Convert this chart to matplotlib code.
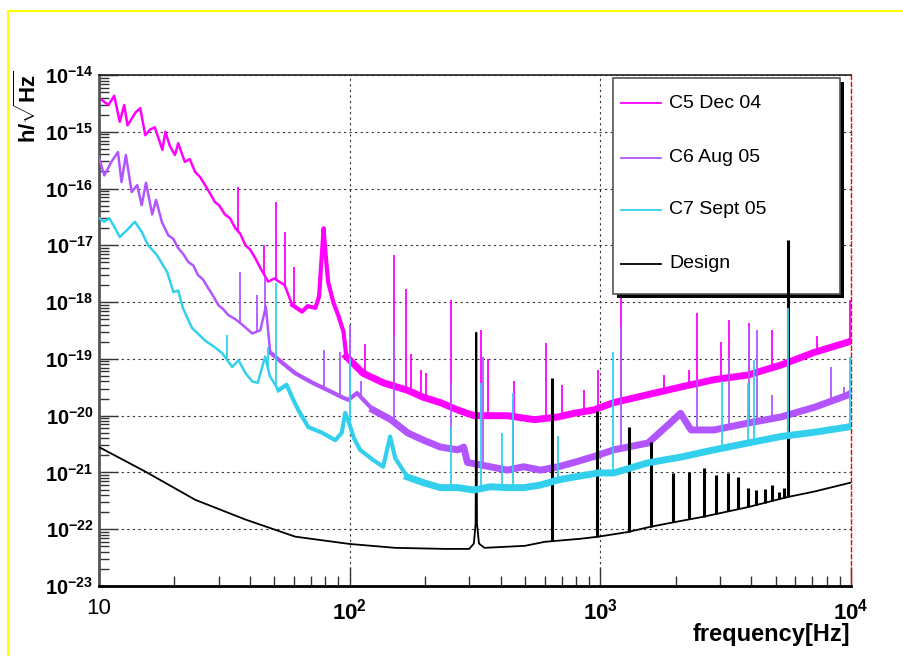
import numpy as np
import matplotlib
matplotlib.use("Agg")
import matplotlib.pyplot as plt
from matplotlib.lines import Line2D
from matplotlib.patches import Rectangle
from matplotlib.ticker import FixedLocator, FixedFormatter, LogLocator, NullFormatter

plt.rcParams['font.family'] = ['Liberation Sans', 'DejaVu Sans']
plt.rcParams['mathtext.fontset'] = 'custom'
plt.rcParams['mathtext.rm'] = 'Liberation Sans:bold'
plt.rcParams['mathtext.it'] = 'Liberation Sans:bold'
plt.rcParams['mathtext.bf'] = 'Liberation Sans:bold'
plt.rcParams['mathtext.default'] = 'rm'

# ---- data (frequency in Hz, strain in 1/sqrt(Hz)) ----
c5_freq = [10.0, 10.9, 11.5, 12.1, 12.6, 13.0, 14.0, 14.6, 15.3, 16.0, 16.7, 17.9, 18.4, 19.2,
           20.1, 20.7, 22.0, 23.0, 24.2, 25.3, 26.5, 27.6, 29.0, 30.2, 31.8, 33.3, 35.0, 36.6,
           38.4, 40.0, 42.0, 44.0, 47.3, 50.0, 55.0, 59.0, 64.6, 68.0, 73.0, 75.5, 78.7,
           80.0, 82.0, 86.0, 90.0, 94.5, 97.0, 113, 136, 170, 197, 230, 270, 313, 426, 545, 680,
           785, 940, 1132, 2094, 2840, 3880, 5260, 7130, 9820, 10000]
c5_h = [4.0e-15, 2.95e-15, 4.3e-15, 1.5e-15, 2.95e-15, 1.3e-15, 2.2e-15, 2.6e-15, 8.7e-16,
        1.1e-15, 1.2e-15, 4.8e-16, 1.0e-15, 5.5e-16, 3.9e-16, 6.3e-16, 2.95e-16, 3.3e-16,
        1.95e-16, 1.6e-16, 1.15e-16, 8.5e-17, 5.8e-17, 5.0e-17, 3.5e-17, 3.0e-17, 2.0e-17,
        1.6e-17, 1.0e-17, 8.5e-18, 6.0e-18, 4.0e-18, 2.3e-18, 2.6e-18, 2.0e-18, 8.9e-19,
        6.8e-19, 8.5e-19, 7.9e-19, 1.26e-18, 2.0e-17, 7.9e-18, 2.3e-18, 1.0e-18, 5.9e-19,
        3.0e-19, 1.1e-19, 5.6e-20, 3.8e-20, 2.8e-20, 2.1e-20, 1.7e-20, 1.26e-20, 1.0e-20,
        1.0e-20, 8.5e-21, 9.5e-21, 1.1e-20, 1.26e-20, 1.7e-20, 3.2e-20, 4.3e-20, 5.2e-20,
        7.8e-20, 1.3e-19, 2.0e-19, 2.1e-19]
c5_spike_f = [36.0, 45.6, 50.6, 55.4, 60.0, 115, 150, 168, 176, 193, 202, 253, 335, 355, 451,
              605, 700, 860, 980, 1208, 1800, 2250, 2426, 3030, 3260, 3930, 4840, 7300, 9950]
c5_spike_h = [1.07e-16, 1.0e-17, 5.8e-17, 1.7e-17, 4.2e-18, 1.8e-19, 6.8e-18, 1.7e-18, 1.2e-19,
              6.5e-20, 5.6e-20, 1.1e-18, 3.2e-19, 1.0e-19, 4.0e-20, 1.9e-19, 3.5e-20, 2.8e-20,
              6.5e-20, 1.2e-18, 5.2e-20, 6.5e-20, 6.5e-19, 2.0e-19, 4.9e-19, 4.3e-19, 3.2e-19,
              2.5e-19, 1.1e-18]

c6_freq = [10.0, 10.5, 11.2, 11.9, 12.3, 12.8, 13.5, 14.2, 14.8, 15.4, 16.3, 16.9, 17.8, 18.9,
           19.8, 20.7, 21.7, 22.7, 23.8, 24.8, 26.0, 27.2, 28.5, 29.9, 31.3, 32.8, 35.0, 37.3,
           40.9, 44.0, 46.3, 48.2, 53.9, 60.6, 71.0,
           82.0, 93.5, 98.8, 107, 124, 146, 170, 197, 230, 270, 285, 295, 363, 426, 494, 577,
           680, 785, 940, 1132, 1550, 1900, 2090, 2300, 2840, 3880, 5260, 7130, 9700, 10000]
c6_h = [3.5e-16, 1.7e-16, 2.95e-16, 4.4e-16, 1.3e-16, 3.9e-16, 8.7e-17, 1.15e-16, 5.1e-17,
        1.26e-16, 3.5e-17, 6.3e-17, 2.6e-17, 1.5e-17, 1.3e-17, 8.9e-18, 7.0e-18, 5.1e-18,
        4.4e-18, 3.0e-18, 2.5e-18, 1.8e-18, 1.3e-18, 8.9e-19, 7.5e-19, 5.9e-19, 5.0e-19,
        4.0e-19, 2.8e-19, 3.2e-19, 8.3e-19, 1.3e-19, 8.5e-20, 5.6e-20,
        3.8e-20, 2.8e-20, 2.1e-20, 1.9e-20, 2.5e-20, 1.26e-20, 8.5e-21, 5.0e-21, 3.7e-21,
        2.8e-21, 2.5e-21, 2.8e-21, 1.5e-21, 1.26e-21, 1.1e-21, 1.26e-21, 1.1e-21, 1.26e-21,
        1.5e-21, 1.9e-21, 2.5e-21, 3.3e-21, 7.4e-21, 1.1e-20, 5.6e-21, 5.6e-21, 7.4e-21,
        9.5e-21, 1.4e-20, 2.3e-20, 2.5e-20]
c6_spike_f = [36.6, 42.8, 45.9, 79, 91.5, 100, 111, 150, 253, 341, 450, 1208, 2426, 3260,
              3930, 4200, 4840, 8300, 9400]
c6_spike_h = [3.4e-18, 1.35e-18, 2.75e-18, 1.45e-19, 1.3e-19, 4.0e-19, 4.0e-20, 2.5e-19,
              3.8e-20, 1.1e-19, 1.9e-20, 3.6e-19, 4.3e-20, 1.1e-19, 3.6e-19, 3.2e-19, 2.3e-20,
              7.2e-20, 3.2e-20]

c7_freq = [10.0, 10.5, 11.0, 11.6, 12.1, 13.0, 13.9, 14.8, 15.7, 17.0, 18.7, 19.8, 20.7, 21.6,
           23.5, 24.8, 26.5, 29.0, 31.0, 34.0, 36.0, 38.4, 40.9, 43.0, 46.0, 48.0, 52.0, 56.0,
           59.6, 62.4, 68.4, 77.6, 87.6, 93.0, 96.0, 99.0, 104, 110, 124, 136, 145, 152, 170,
           197, 230, 270, 313, 363, 426, 494, 577, 680, 785, 980, 1132, 1550, 2090, 2840, 3880,
           5260, 7130, 9700, 10000]
c7_h = [3.0e-17, 2.6e-17, 3.0e-17, 2.0e-17, 1.4e-17, 1.9e-17, 2.6e-17, 1.74e-17, 1.0e-17,
        6.8e-18, 3.4e-18, 1.5e-18, 1.6e-18, 7.9e-19, 3.5e-19, 2.8e-19, 2.1e-19, 1.6e-19,
        1.26e-19, 7.2e-20, 9.5e-20, 5.6e-20, 4.0e-20, 3.8e-20, 1.1e-19, 5.0e-20, 2.8e-20,
        3.5e-20, 1.9e-20, 1.26e-20, 6.3e-21, 5.0e-21, 3.7e-21, 5.0e-21, 1.12e-20, 7.9e-21,
        4.0e-21, 2.5e-21, 1.66e-21, 1.26e-21, 4.3e-21, 1.78e-21, 8.3e-22, 6.6e-22, 5.4e-22,
        5.4e-22, 4.9e-22, 5.6e-22, 5.4e-22, 5.4e-22, 6.0e-22, 7.4e-22, 8.3e-22, 9.8e-22,
        9.8e-22, 1.48e-21, 1.86e-21, 2.5e-21, 3.3e-21, 4.3e-21, 5.1e-21, 6.3e-21, 6.5e-21]
c7_spike_f = [32.5, 47.3, 50.6, 100, 253, 333, 405, 450, 680, 1120, 3070, 3880, 4100, 5620, 9950]
c7_spike_h = [2.6e-19, 1.6e-19, 2.2e-18, 1.0e-19, 6.3e-21, 3.8e-20, 5.0e-21, 2.5e-20, 4.3e-21,
              1.3e-19, 4.0e-20, 3.8e-20, 9.5e-20, 7.9e-19, 1.1e-19]

design_freq = [10, 15.4, 24.2, 38.4, 60.6, 100, 152, 241, 300, 313, 318, 320, 322, 328, 345,
               500, 600, 836, 982, 1285, 1580, 1900, 2580, 3880, 5600, 7130, 9950, 10000]
design_h = [2.8e-21, 1.02e-21, 3.3e-22, 1.48e-22, 7.4e-23, 5.5e-23, 4.7e-23, 4.5e-23, 4.5e-23,
            5.6e-23, 1.26e-22, 2.9e-19, 1.26e-22, 5.6e-23, 4.7e-23, 5.1e-23, 6.0e-23, 6.8e-23,
            7.4e-23, 8.9e-23, 1.1e-22, 1.29e-22, 1.66e-22, 2.45e-22, 3.7e-22, 4.6e-22, 6.6e-22,
            6.6e-22]
design_spike_f = [640, 967, 1300, 1600, 1950, 2260, 2600, 2900, 3240, 3550, 3880, 4180, 4520,
                  4860, 5160, 5400, 5620]
design_spike_h = [4.7e-20, 1.2e-20, 6.2e-21, 3.5e-21, 9.8e-22, 1.0e-21, 1.2e-21, 9.1e-22,
                  9.8e-22, 8.3e-22, 5.4e-22, 4.9e-22, 5.1e-22, 6.0e-22, 4.6e-22, 5.4e-22,
                  1.26e-17]

labels = ['C5 Dec 04', 'C6 Aug 05', 'C7 Sept 05', 'Design']
colors = ['#ff00ff', '#b255ff', '#33d0ee', 'black']

xticks = [10, 100, 1000, 10000]
xtick_labels = ['10', '$10^{2}$', '$10^{3}$', '$10^{4}$']
yticks = [10.0 ** e for e in range(-23, -13)]
ytick_labels = ['$10^{%d}$' % e for e in range(-23, -13)]

# ---- figure ----
W, H = 904, 656
fig = plt.figure(figsize=(W / 100, H / 100), dpi=100)


def fx(px):
    return px / W


def fy(py):
    return 1 - py / H


ax = fig.add_axes([fx(99), fy(586), fx(851) - fx(99), fy(75) - fy(586)])
ax.set_xscale('log')
ax.set_yscale('log')


def trace(f, h, sf, sh, color, mid_from, band_from, z):
    # noisy spectra: thin at low f, a wider noise band at high f
    f = np.array(f, dtype=float)
    h = np.array(h, dtype=float)
    ax.plot(f, h, color=color, lw=1.8, zorder=z)
    m = f >= mid_from
    ax.plot(f[m], h[m], color=color, lw=3.0, zorder=z)
    m = f >= band_from
    ax.plot(f[m], h[m], color=color, lw=5.0, zorder=z)
    base = 10 ** np.interp(np.log10(sf), np.log10(f), np.log10(h))
    ax.vlines(sf, base, sh, color=color, lw=1.3, zorder=z)


trace(c5_freq, c5_h, c5_spike_f, c5_spike_h, colors[0], 59, 97, 2)
trace(c6_freq, c6_h, c6_spike_f, c6_spike_h, colors[1], 48, 120, 3)

ax.plot(design_freq, design_h, color='black', lw=1.3, zorder=5)
dbase = 10 ** np.interp(np.log10(design_spike_f), np.log10(design_freq), np.log10(design_h))
ax.vlines(design_spike_f, dbase, design_spike_h, color='black', lw=2.2, zorder=5)

trace(c7_freq, c7_h, c7_spike_f, c7_spike_h, colors[2], 52, 160, 6)

ax.set_xlim(10, 1e4)
ax.set_ylim(1e-23, 1e-14)

ax.xaxis.set_major_locator(FixedLocator(xticks))
ax.xaxis.set_major_formatter(FixedFormatter(xtick_labels))
ax.xaxis.set_minor_locator(LogLocator(base=10, subs=range(2, 10), numticks=100))
ax.xaxis.set_minor_formatter(NullFormatter())
ax.yaxis.set_major_locator(FixedLocator(yticks))
ax.yaxis.set_major_formatter(FixedFormatter(ytick_labels))
ax.yaxis.set_minor_locator(LogLocator(base=10, subs=range(2, 10), numticks=100))
ax.yaxis.set_minor_formatter(NullFormatter())

ax.tick_params(which='both', direction='in', top=False, right=False, color='#333333')
ax.tick_params(which='major', length=14, width=1.0)
ax.tick_params(which='minor', length=7, width=1.0)
ax.tick_params(axis='x', which='major', pad=9, labelsize=16)
ax.tick_params(axis='y', which='major', pad=4, labelsize=14.5)

ax.grid(True, which='major', color='#333333', linestyle=(0, (2, 3)), lw=0.8)
ax.set_axisbelow(True)

ax.spines['right'].set_color('red')
ax.spines['right'].set_linestyle((0, (3, 2)))
ax.spines['right'].set_linewidth(1.0)
ax.spines['left'].set_color('#555555')
ax.spines['left'].set_linewidth(2.0)
ax.spines['bottom'].set_linewidth(2.0)
ax.spines['top'].set_color('#222222')
ax.spines['top'].set_linewidth(1.2)

# ---- legend box with shadow ----
ax.add_artist(Rectangle((fx(617), fy(298)), fx(844) - fx(617), fy(82) - fy(298),
                        transform=fig.transFigure, facecolor='black', edgecolor='none',
                        zorder=4.4, clip_on=False))
ax.add_artist(Rectangle((fx(613), fy(294)), fx(840) - fx(613), fy(78) - fy(294),
                        transform=fig.transFigure, facecolor='white', edgecolor='#555555',
                        lw=1.2, zorder=4.5, clip_on=False))
entry_y = [103, 158, 210, 264]
for lab, col, yy in zip(labels, colors, entry_y):
    ax.add_artist(Line2D([fx(621), fx(661)], [fy(yy), fy(yy)], transform=fig.transFigure,
                         color=col, lw=1.3, zorder=4.6, clip_on=False))
    ax.text(fx(669), fy(yy), lab, transform=fig.transFigure, fontsize=14,
            ha='left', va='center', zorder=4.6)

# ---- axis titles ----
fig.text(fx(28), fy(70), r'$h/\sqrt{Hz}$', rotation=90, ha='center', va='top', fontsize=16)
fig.text(fx(850), fy(634), 'frequency[Hz]', ha='right', va='center',
         fontsize=17, fontweight='bold')

# yellow canvas frame (partly cropped)
fig.add_artist(Line2D([fx(8), fx(8), 1.0], [0.0, fy(11), fy(11)], transform=fig.transFigure,
                      color='#ffff00', lw=1.5))

fig.savefig('out.png', dpi=100)
plt.close(fig)
